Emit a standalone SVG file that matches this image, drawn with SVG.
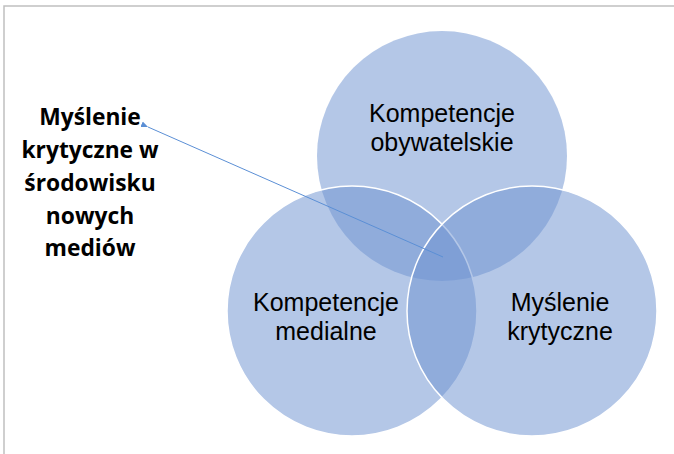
<svg xmlns="http://www.w3.org/2000/svg" width="674" height="454" viewBox="0 0 674 454">
  <style>
    .venn { fill: #6F93D1; fill-opacity: 0.52; stroke: #ffffff; stroke-width: 1.5; }
    .lbl { font-family: "Liberation Sans", Arial, sans-serif; font-size: 25px; fill: #000000; text-anchor: middle; }
    .side { font-family: "Open Sans", "Liberation Sans", sans-serif; font-size: 22.8px; font-weight: bold; fill: #000000; text-anchor: middle; }
    .frame { stroke: #c0c0c0; stroke-width: 1.5; fill: none; }
    .conn { stroke: #5B8FD5; stroke-width: 1; fill: none; }
  </style>
  <defs>
    <marker id="arr" markerWidth="8" markerHeight="8" refX="1" refY="4" orient="auto" markerUnits="userSpaceOnUse">
      <path d="M8,1 L1,4 L8,7 Z" fill="#5B8FD5"/>
    </marker>
  </defs>
  <rect width="674" height="454" fill="#ffffff"/>
  <path class="frame" d="M4,454 L4,6 L674,6"/>

  <g id="node-obywatelskie">
    <circle class="venn" cx="442" cy="156" r="125" style="stroke:none"/>
    <text class="lbl" x="442" y="122">Kompetencje</text>
    <text class="lbl" x="442" y="151">obywatelskie</text>
  </g>
  <g id="node-medialne">
    <circle class="venn" cx="352" cy="311" r="125"/>
  </g>
  <g id="node-krytyczne">
    <circle class="venn" cx="532" cy="311" r="125"/>
  </g>
  <g id="labels-bottom">
    <text class="lbl" x="326" y="311">Kompetencje</text>
    <text class="lbl" x="326" y="340">medialne</text>
    <text class="lbl" x="560" y="311">Myślenie</text>
    <text class="lbl" x="560" y="340">krytyczne</text>
  </g>

  <g id="node-side-label">
    <text class="side" x="90" y="125">Myślenie</text>
    <text class="side" x="90" y="158">krytyczne w</text>
    <text class="side" x="90" y="191">środowisku</text>
    <text class="side" x="90" y="224">nowych</text>
    <text class="side" x="90" y="256">mediów</text>
  </g>

  <g id="connectors">
    <line class="conn" x1="443" y1="257" x2="148" y2="127" marker-end="url(#arr)"/>
  </g>
</svg>
